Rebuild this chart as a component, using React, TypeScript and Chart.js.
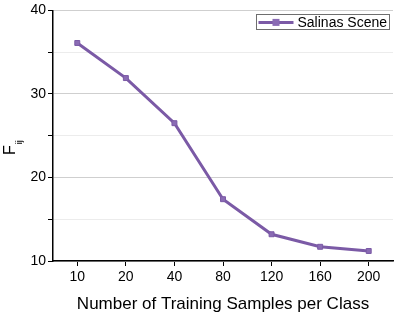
import React, { useEffect, useRef } from "react";
import { Chart, registerables } from "chart.js";

Chart.register(...registerables);

const categories = ["10", "20", "40", "80", "120", "160", "200"];
const seriesLabel = "Salinas Scene";
const seriesValues = [36.1, 31.9, 26.5, 17.4, 13.2, 11.7, 11.2];
const yMin = 10;
const yMax = 40;
const xTitle = "Number of Training Samples per Class";
const yTitleMain = "F";
const yTitleSub = "ij";

const LINE = "#7b5aa6";
const FONT = "'Liberation Sans', Arial, sans-serif";

const decorPlugin = {
  id: "decor",
  afterDraw(chart: any) {
    const { ctx, chartArea } = chart;
    ctx.save();
    // y title with subscript
    const cy = (chartArea.top + chartArea.bottom) / 2 + 12;
    ctx.translate(15, cy);
    ctx.rotate(-Math.PI / 2);
    ctx.fillStyle = "#000";
    ctx.textBaseline = "alphabetic";
    ctx.font = `16px ${FONT}`;
    const wF = ctx.measureText(yTitleMain).width;
    ctx.font = `9px ${FONT}`;
    const wS = ctx.measureText(yTitleSub).width;
    const total = wF + wS + 1;
    ctx.font = `16px ${FONT}`;
    ctx.textAlign = "left";
    ctx.fillText(yTitleMain, -total / 2, 0);
    ctx.font = `9px ${FONT}`;
    ctx.fillText(yTitleSub, -total / 2 + wF + 1, 7);
    ctx.restore();

    // legend
    const label = chart.data.datasets[0].label;
    ctx.save();
    ctx.font = `14px ${FONT}`;
    const tw = ctx.measureText(label).width;
    const bx2 = chartArea.right - 4;
    const by1 = chartArea.top + 4;
    const bh = 15;
    const lineLen = 35;
    const bw = 2 + lineLen + 4 + tw + 2;
    const bx1 = bx2 - bw;
    ctx.fillStyle = "#fff";
    ctx.fillRect(bx1, by1, bw, bh);
    ctx.strokeStyle = "#6e6e6e";
    ctx.lineWidth = 1;
    ctx.strokeRect(Math.round(bx1) + 0.5, Math.round(by1) + 0.5, Math.round(bw), bh);
    const ly = by1 + bh / 2 + 0.5;
    ctx.strokeStyle = LINE;
    ctx.lineWidth = 3;
    ctx.beginPath();
    ctx.moveTo(bx1 + 2, ly);
    ctx.lineTo(bx1 + 2 + lineLen, ly);
    ctx.stroke();
    ctx.fillStyle = "#8a6bb4";
    ctx.fillRect(bx1 + 2 + lineLen / 2 - 3.5, ly - 3.5, 7, 7);
    ctx.fillStyle = "#000";
    ctx.textBaseline = "middle";
    ctx.textAlign = "left";
    ctx.fillText(label, bx1 + 2 + lineLen + 4, ly + 0.5);
    ctx.restore();
  },
};

export default function App() {
  const ref = useRef<HTMLCanvasElement | null>(null);
  useEffect(() => {
    if (!ref.current) return;
    const chart = new Chart(ref.current, {
      type: "line",
      data: {
        labels: categories,
        datasets: [
          {
            label: seriesLabel,
            data: seriesValues,
            borderColor: LINE,
            borderWidth: 3,
            backgroundColor: "#8a6bb4",
            pointStyle: "rect",
            pointRadius: 3.5,
            pointBorderWidth: 1,
            pointBorderColor: LINE,
            tension: 0,
          },
        ],
      },
      options: {
        responsive: false,
        animation: false,
        layout: { padding: { left: 0, right: 6, top: 9, bottom: 0 } },
        plugins: { legend: { display: false }, tooltip: { enabled: false } },
        scales: {
          x: {
            type: "category",
            offset: true,
            grid: {
              drawOnChartArea: false,
              drawTicks: true,
              tickLength: 5,
              tickColor: "#000",
              offset: false,
            },
            border: { color: "#000", width: 1.5 },
            ticks: { color: "#000", font: { family: FONT, size: 14 }, padding: 3 },
            title: {
              display: true,
              text: xTitle,
              color: "#000",
              font: { family: FONT, size: 17 },
              padding: { top: 2, bottom: 0 },
            },
            afterFit(scale: any) {
              scale.height = 54;
            },
          },
          y: {
            min: yMin,
            max: yMax,
            ticks: {
              stepSize: 5,
              color: "#000",
              font: { family: FONT, size: 14 },
              padding: 2,
              callback: (v: any) => (Number(v) % 10 === 0 ? String(v) : ""),
            },
            grid: {
              color: (c: any) =>
                c.tick && c.tick.value % 10 === 0 ? "#cfcfcf" : "#ececec",
              tickColor: "#000",
              tickLength: 5,
              lineWidth: 1,
            },
            border: { color: "#000", width: 1.5 },
            afterFit(scale: any) {
              scale.width = 53;
            },
          },
        },
      },
      plugins: [decorPlugin],
    } as any);
    return () => chart.destroy();
  }, []);
  return (
    <div style={{ position: "fixed", left: 0, top: 0, width: 399, height: 315, background: "#fff" }}>
      <canvas ref={ref} width={399} height={315} style={{ display: "block" }} />
    </div>
  );
}
